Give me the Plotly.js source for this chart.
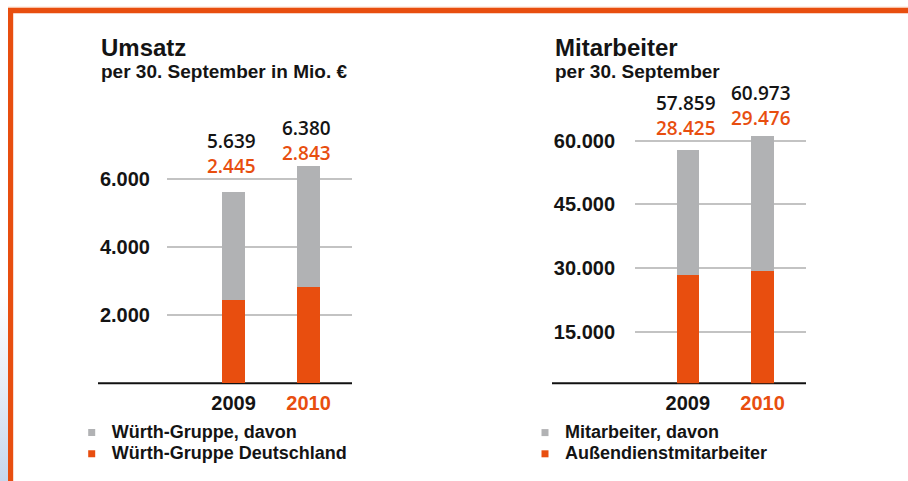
<!DOCTYPE html>
<html>
<head>
<meta charset="utf-8">
<script src="https://cdn.plot.ly/plotly-3.0.1.min.js"></script>
<style>
html, body { margin: 0; padding: 0; background: #ffffff; }
#wrap {
  position: relative; width: 908px; height: 481px;
  background: linear-gradient(to bottom, #ffffff 0%, #ffffff 60%, #e7edf7 80%, #c6d7ee 100%) no-repeat 0 0 / 8px 100%, #ffffff;
}
#chart { width: 908px; height: 481px; }
</style>
</head>
<body>
<div id="wrap"><div id="chart"></div></div>
<script>
// ---- data ----
const years = ['2009', '2010'];
const umsatzGruppe = [5639, 6380];
const umsatzDeutschland = [2445, 2843];
const mitarbeiterGesamt = [57859, 60973];
const mitarbeiterAussendienst = [28425, 29476];
const umsatzTicks = [2000, 4000, 6000];
const mitarbeiterTicks = [15000, 30000, 45000, 60000];
const umsatzLegend = ['Würth-Gruppe, davon', 'Würth-Gruppe Deutschland'];
const mitarbeiterLegend = ['Mitarbeiter, davon', 'Außendienstmitarbeiter'];
const chartTitles = ['Umsatz', 'Mitarbeiter'];
const chartSubtitles = ['per 30. September in Mio. €', 'per 30. September'];

// ---- style ----
const ORANGE = '#e84e0f';
const GREY = '#b1b2b4';
const INK = '#141414';
const FONT = 'Liberation Sans, Arial, sans-serif';
const LABEL_FONT = 'Open Sans, Liberation Sans, Arial, sans-serif';
const W = 908, H = 481;
const px = v => v / W;          // horizontal pixel -> paper
const py = v => 1 - v / H;      // vertical pixel -> paper

const fmt = v => String(v).replace(/\B(?=(\d{3})+(?!\d))/g, '.');
const yearText = years.map((y, i) => i === years.length - 1 ? '<span style="color:' + ORANGE + '">' + y + '</span>' : y);
const minus = (a, b) => a.map((v, i) => v - b[i]);
const legendName = s => '<span style="font-size:18px">' + s + '</span>';

const traces = [
  // Umsatz
  { type: 'bar', x: years, y: umsatzDeutschland, xaxis: 'x', yaxis: 'y', width: 0.3,
    marker: { color: ORANGE }, name: umsatzLegend[1], legendgroup: 'u2', showlegend: false,
    hovertemplate: '%{x}: %{y:,d}<extra>' + umsatzLegend[1] + '</extra>' },
  { type: 'bar', x: years, y: minus(umsatzGruppe, umsatzDeutschland), xaxis: 'x', yaxis: 'y', width: 0.3,
    marker: { color: GREY }, name: umsatzLegend[0], legendgroup: 'u1', showlegend: false,
    customdata: umsatzGruppe, hovertemplate: '%{x}: %{customdata:,d}<extra>' + umsatzLegend[0] + '</extra>' },
  // Mitarbeiter
  { type: 'bar', x: years, y: mitarbeiterAussendienst, xaxis: 'x2', yaxis: 'y2', width: 0.3,
    marker: { color: ORANGE }, name: mitarbeiterLegend[1], legendgroup: 'm2', showlegend: false,
    hovertemplate: '%{x}: %{y:,d}<extra>' + mitarbeiterLegend[1] + '</extra>' },
  { type: 'bar', x: years, y: minus(mitarbeiterGesamt, mitarbeiterAussendienst), xaxis: 'x2', yaxis: 'y2', width: 0.3,
    marker: { color: GREY }, name: mitarbeiterLegend[0], legendgroup: 'm1', showlegend: false,
    customdata: mitarbeiterGesamt, hovertemplate: '%{x}: %{customdata:,d}<extra>' + mitarbeiterLegend[0] + '</extra>' },
  // legend entries (small squares)
  { type: 'scatter', mode: 'markers', x: [null], y: [null], xaxis: 'x', yaxis: 'y', name: legendName(umsatzLegend[0]),
    legendgroup: 'u1', legend: 'legend', marker: { symbol: 'square', size: 7, color: GREY } },
  { type: 'scatter', mode: 'markers', x: [null], y: [null], xaxis: 'x', yaxis: 'y', name: legendName(umsatzLegend[1]),
    legendgroup: 'u2', legend: 'legend', marker: { symbol: 'square', size: 7, color: ORANGE } },
  { type: 'scatter', mode: 'markers', x: [null], y: [null], xaxis: 'x2', yaxis: 'y2', name: legendName(mitarbeiterLegend[0]),
    legendgroup: 'm1', legend: 'legend2', marker: { symbol: 'square', size: 7, color: GREY } },
  { type: 'scatter', mode: 'markers', x: [null], y: [null], xaxis: 'x2', yaxis: 'y2', name: legendName(mitarbeiterLegend[1]),
    legendgroup: 'm2', legend: 'legend2', marker: { symbol: 'square', size: 7, color: ORANGE } }
];

// value labels above the bars (total in black, "davon" part in orange below it)
const annotations = [];
const addLabels = (xref, yref, totals, parts, lift) => {
  years.forEach((yr, i) => {
    annotations.push({ xref, yref, x: i, y: totals[i], showarrow: false,
      text: fmt(totals[i]) + '<br><span style="color:' + ORANGE + '">' + fmt(parts[i]) + '</span>',
      align: 'center', yanchor: 'middle', xanchor: 'center', xshift: -2, yshift: lift[i],
      font: { family: LABEL_FONT, size: 19, color: INK, weight: 600 } });
  });
};
addLabels('x', 'y', umsatzGruppe, umsatzDeutschland, [38.3, 25.6]);
addLabels('x2', 'y2', mitarbeiterGesamt, mitarbeiterAussendienst, [33.9, 30.7]);

// chart titles
[[99, chartTitles[0], chartSubtitles[0]], [553, chartTitles[1], chartSubtitles[1]]].forEach(([x, t, s]) => {
  annotations.push({ xref: 'paper', yref: 'paper', x: px(x), y: py(47), xanchor: 'left', yanchor: 'middle',
    text: t, showarrow: false, font: { family: FONT, size: 24, color: INK, weight: 'bold' } });
  annotations.push({ xref: 'paper', yref: 'paper', x: px(x), y: py(71), xanchor: 'left', yanchor: 'middle',
    text: s, showarrow: false, font: { family: FONT, size: 19, color: INK, weight: 'bold' } });
});

const tickFont = { family: FONT, size: 20, color: INK, weight: 'bold' };
const yAxisBase = {
  showgrid: true, gridcolor: '#c3c3c3', gridwidth: 1.5, zeroline: false, showline: false,
  ticks: 'outside', tickcolor: 'rgba(0,0,0,0)', tickfont: tickFont, tickmode: 'array', fixedrange: true
};
const xAxisBase = {
  type: 'category', showgrid: false, zeroline: false, showline: false, ticks: 'outside', ticklen: 2,
  tickcolor: 'rgba(0,0,0,0)', tickfont: tickFont, tickmode: 'array', tickvals: years, ticktext: yearText, fixedrange: true
};

const legendBase = { xanchor: 'left', yanchor: 'top', bgcolor: 'rgba(0,0,0,0)', borderwidth: 0,
  font: { family: FONT, size: 14, color: INK, weight: 'bold' }, traceorder: 'normal' };

const layout = {
  width: W, height: H,
  margin: { l: 0, r: 0, t: 0, b: 0 },
  paper_bgcolor: 'rgba(0,0,0,0)', plot_bgcolor: 'rgba(0,0,0,0)',
  separators: ',.',
  barmode: 'stack',
  font: { family: FONT, color: INK },
  xaxis: Object.assign({}, xAxisBase, { domain: [px(167), px(352)], range: [-0.889, 1.58], anchor: 'y' }),
  yaxis: Object.assign({}, yAxisBase, { domain: [py(383.3), py(98)], range: [0, 8391], anchor: 'x', ticklen: 12,
    tickvals: umsatzTicks, ticktext: umsatzTicks.map(fmt) }),
  xaxis2: Object.assign({}, xAxisBase, { domain: [px(635), px(806)], range: [-0.707, 1.582], anchor: 'y2' }),
  yaxis2: Object.assign({}, yAxisBase, { domain: [py(383.3), py(98)], range: [3000, 70000], anchor: 'x2', ticklen: 15,
    tickvals: mitarbeiterTicks, ticktext: mitarbeiterTicks.map(fmt) }),
  legend: Object.assign({}, legendBase, { x: px(71.7), y: py(417) }),
  legend2: Object.assign({}, legendBase, { x: px(525), y: py(417) }),
  annotations,
  shapes: [
    // baselines
    { type: 'line', xref: 'paper', yref: 'y domain', x0: px(98), x1: px(352), y0: 0, y1: 0,
      line: { color: '#111111', width: 2 }, layer: 'below' },
    { type: 'line', xref: 'paper', yref: 'y2 domain', x0: px(552), x1: px(806), y0: 0, y1: 0,
      line: { color: '#111111', width: 2 }, layer: 'below' },
    // orange frame
    { type: 'rect', xref: 'paper', yref: 'paper', x0: px(8), x1: 1, y0: py(8), y1: py(6.7),
      fillcolor: '#f7c2a8', line: { width: 0 } },
    { type: 'rect', xref: 'paper', yref: 'paper', x0: px(8), x1: 1, y0: py(13.3), y1: py(8),
      fillcolor: ORANGE, line: { width: 0 } },
    { type: 'rect', xref: 'paper', yref: 'paper', x0: px(8), x1: px(13.2), y0: 0, y1: py(8),
      fillcolor: ORANGE, line: { width: 0 } }
  ]
};

Plotly.newPlot('chart', traces, layout, { displayModeBar: false, responsive: false });
</script>
</body>
</html>
